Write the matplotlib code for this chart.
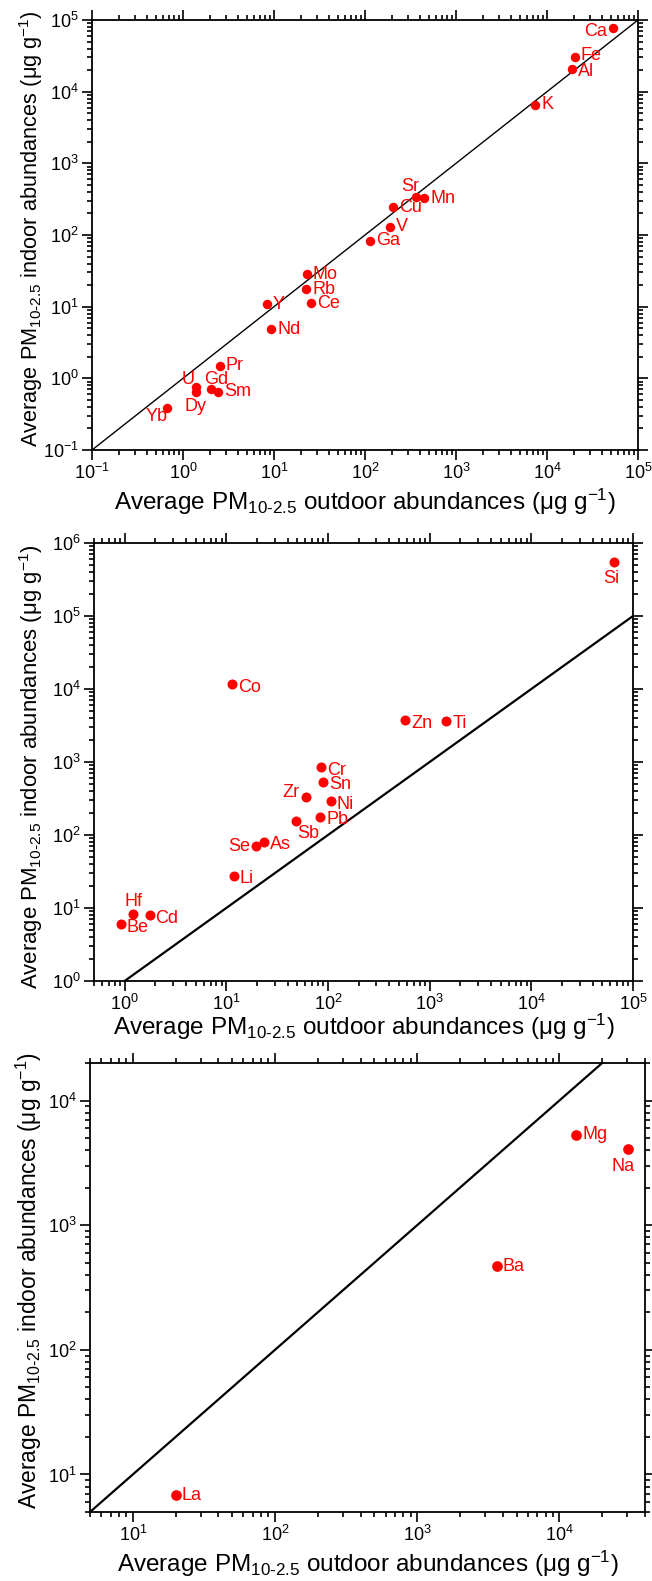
import numpy as np
import matplotlib
matplotlib.use('Agg')
import matplotlib.pyplot as plt
from matplotlib.ticker import LogLocator, NullFormatter

plt.rcParams['font.family'] = ['Liberation Sans', 'DejaVu Sans']
plt.rcParams['mathtext.fontset'] = 'custom'
plt.rcParams['mathtext.rm'] = 'Liberation Sans'
plt.rcParams['mathtext.it'] = 'Liberation Sans:italic'
plt.rcParams['mathtext.default'] = 'regular'

# panel 1: major / rare-earth elements
p1_elements = ['Ca', 'Fe', 'Al', 'K', 'Sr', 'Mn', 'Cu', 'V', 'Ga',
               'Mo', 'Rb', 'Ce', 'Y', 'Nd', 'Pr', 'U', 'Dy', 'Gd', 'Sm', 'Yb']
p1_outdoor = [52700, 20100, 18800, 7450, 360, 445, 205, 188, 113,
              22.9, 22.5, 25.5, 8.3, 9.3, 2.55, 1.39, 1.39, 2.03, 2.44, 0.67]
p1_indoor = [76600, 30100, 20500, 6520, 336, 325, 243, 131, 83,
             28.2, 17.6, 11.1, 10.8, 4.83, 1.50, 0.76, 0.64, 0.71, 0.65, 0.39]

# panel 2: enriched indoors
p2_elements = ['Si', 'Co', 'Zn', 'Ti', 'Cr', 'Sn', 'Zr', 'Ni', 'Pb', 'Sb',
               'As', 'Se', 'Li', 'Hf', 'Cd', 'Be']
p2_outdoor = [65300, 11.4, 575, 1456, 85.3, 89.4, 60.8, 107, 84, 48.4,
              23.5, 19.6, 11.8, 1.21, 1.76, 0.92]
p2_indoor = [553000, 11600, 3730, 3690, 845, 537, 334, 292, 178, 155,
             80.7, 70.4, 27.6, 8.4, 7.96, 6.0]

# panel 3: depleted indoors
p3_elements = ['Mg', 'Na', 'Ba', 'La']
p3_outdoor = [13150, 30300, 3620, 20]
p3_indoor = [5320, 4100, 470, 6.8]

one_to_one = [1e-3, 1e7]

# label placement (pixels): ha, dx, dy
p1_place = {'Ca': ('right', -6, -3), 'Fe': ('left', 6, 2), 'Al': ('left', 6, -2),
            'Sr': ('center', -5, 11),
            'U': ('center', -8, 7), 'Dy': ('center', -1, -14),
            'Gd': ('center', 5, 9), 'Yb': ('center', -11, -9)}
p2_place = {'Si': ('center', -3, -17), 'Zr': ('right', -6, 4),
            'Sb': ('center', 12, -12), 'Se': ('right', -6, 0),
            'Hf': ('center', 0, 12), 'Be': ('left', 6, -3)}
p3_place = {'Na': ('center', -5, -18)}

W, H = 652, 1581
fig = plt.figure(figsize=(W / 100, H / 100), dpi=100)

xlab = r'Average PM$_{10\text{-}2.5}$ outdoor abundances (μg g$^{-1}$)'
ylab = r'Average PM$_{10\text{-}2.5}$ indoor abundances (μg g$^{-1}$)'


def panel(box, xlim, ylim, elements, outdoor, indoor, place, default_dy,
          ms, lw, xlab_y, ylab_pos, ylab_size):
    l, t, r, b = box
    ax = fig.add_axes([l / W, 1 - b / H, (r - l) / W, (b - t) / H])
    ax.set_xscale('log')
    ax.set_yscale('log')
    ax.plot(one_to_one, one_to_one, color='black', lw=lw, zorder=2)
    ax.plot(outdoor, indoor, 'o', color='red', ms=ms, mec='none', zorder=3)
    for name, x, y in zip(elements, outdoor, indoor):
        ha, dx, dy = place.get(name, ('left', 6, default_dy))
        ax.annotate(name, (x, y), xytext=(dx * 0.72, dy * 0.72),
                    textcoords='offset points', ha=ha, va='center',
                    color='red', fontsize=13, zorder=4)
    ax.set_xlim(*xlim)
    ax.set_ylim(*ylim)
    for axis in (ax.xaxis, ax.yaxis):
        axis.set_major_locator(LogLocator(base=10, numticks=20))
        axis.set_minor_locator(LogLocator(base=10, subs=np.arange(2, 10), numticks=100))
        axis.set_minor_formatter(NullFormatter())
    ax.tick_params(which='both', direction='out', top=True, right=True,
                   width=1.2, labelsize=13, pad=2.5)
    ax.tick_params(which='major', length=7)
    ax.tick_params(which='minor', length=3.5)
    for s in ax.spines.values():
        s.set_linewidth(1.3)
    ax.set_xlabel(xlab, fontsize=17.5)
    ax.set_ylabel(ylab, fontsize=ylab_size)
    ax.xaxis.label.set_va('center')
    ax.yaxis.label.set_va('center')
    ax.xaxis.set_label_coords(0.5, xlab_y)
    ax.yaxis.set_label_coords(*ylab_pos)
    return ax


panel((92, 20, 638, 450), (0.1, 1e5), (0.1, 1e5),
      p1_elements, p1_outdoor, p1_indoor, p1_place, 0, 6.8, 1.0,
      -0.12, (-0.112, 0.516), 15.7)
panel((94, 543, 633, 981), (0.5, 1e5), (1, 1e6),
      p2_elements, p2_outdoor, p2_indoor, p2_place, -3, 7.2, 1.6,
      -0.105, (-0.117, 0.489), 15.9)
panel((90, 1063, 645, 1512), (5, 4e4), (5, 2e4),
      p3_elements, p3_outdoor, p3_indoor, p3_place, 0, 7.7, 1.6,
      -0.116, (-0.11, 0.516), 16.4)

fig.savefig('out.png', dpi=100)
